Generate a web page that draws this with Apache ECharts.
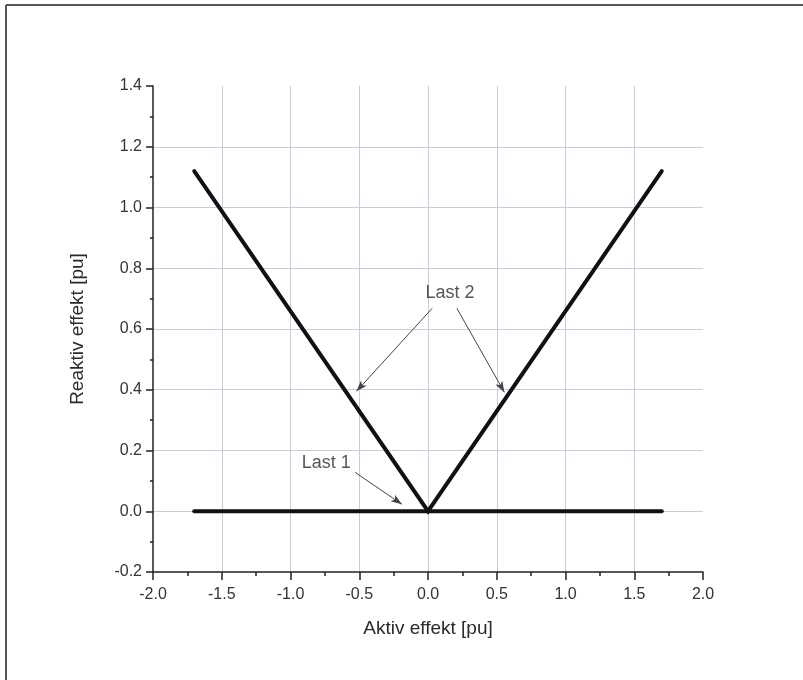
<!DOCTYPE html>
<html>
<head>
<meta charset="utf-8">
<script src="https://cdn.jsdelivr.net/npm/echarts@6/dist/echarts.min.js"></script>
<style>
  html, body { margin: 0; padding: 0; background: #fff; }
  #chart { width: 803px; height: 680px; }
</style>
</head>
<body>
<div id="chart"></div>
<script>
// Load curves in the P-Q plane
const last1 = [[-1.7, 0.0], [1.7, 0.0]];
const last2 = [[-1.7, 1.12], [0.0, 0.0], [1.7, 1.12]];

// Text annotations: [x, y, text]
const labels = [[0.16, 0.72, 'Last 2'], [-0.74, 0.16, 'Last 1']];
// Pointer arrows: [[x0, y0], [x1, y1]]
const arrows = [
  [[0.03, 0.668], [-0.52, 0.395]],
  [[0.21, 0.668], [0.555, 0.392]],
  [[-0.53, 0.128], [-0.19, 0.023]]
];

const axisFont = 'Liberation Sans, Arial, sans-serif';
const chart = echarts.init(document.getElementById('chart'), null, { renderer: 'canvas' });

const gridLine = { show: true, showMinLine: false, showMaxLine: false,
  lineStyle: { color: '#c3cde2', width: 1 } };

const option = {
  backgroundColor: '#ffffff',
  animation: false,
  grid: { left: 153, right: 100, top: 86, bottom: 108 },
  xAxis: {
    type: 'value', min: -2, max: 2, interval: 0.5,
    name: 'Aktiv effekt [pu]', nameLocation: 'middle', nameGap: 47,
    nameTextStyle: { fontFamily: axisFont, fontSize: 19, color: '#2a2a2a' },
    axisLine: { onZero: false, lineStyle: { color: '#222', width: 1.5 } },
    axisTick: { show: true, length: 8, lineStyle: { color: '#222', width: 1.5 } },
    minorTick: { show: true, splitNumber: 2, length: 4, lineStyle: { color: '#222', width: 1.5 } },
    axisLabel: { fontFamily: axisFont, fontSize: 16, color: '#333', margin: 15,
      formatter: v => v.toFixed(1) },
    splitLine: gridLine
  },
  yAxis: {
    type: 'value', min: -0.2, max: 1.4, interval: 0.2,
    name: 'Reaktiv effekt [pu]', nameLocation: 'middle', nameGap: 66,
    nameTextStyle: { fontFamily: axisFont, fontSize: 19, color: '#2a2a2a' },
    axisLine: { onZero: false, lineStyle: { color: '#222', width: 1.5 } },
    axisTick: { show: true, length: 7, lineStyle: { color: '#222', width: 1.5 } },
    minorTick: { show: true, splitNumber: 2, length: 3, lineStyle: { color: '#222', width: 1.5 } },
    axisLabel: { fontFamily: axisFont, fontSize: 16, color: '#333', margin: 11,
      formatter: v => v.toFixed(1) },
    splitLine: gridLine
  },
  graphic: [
    { type: 'line', shape: { x1: 6, y1: 5, x2: 803, y2: 5 }, style: { stroke: '#555', lineWidth: 2 } },
    { type: 'line', shape: { x1: 6, y1: 5, x2: 6, y2: 680 }, style: { stroke: '#555', lineWidth: 2 } }
  ],
  series: [
    {
      name: 'Last 1', type: 'line', data: last1, showSymbol: false,
      lineStyle: { color: '#111', width: 4, cap: 'round' }
    },
    {
      name: 'Last 2', type: 'line', data: last2, showSymbol: false,
      lineStyle: { color: '#111', width: 4, cap: 'round', join: 'miter' }
    },
    {
      name: 'annotations', type: 'scatter', symbolSize: 0, silent: true,
      data: labels.map(l => ({ value: [l[0], l[1]], name: l[2] })),
      label: {
        show: true, position: 'inside', formatter: p => p.name,
        fontFamily: axisFont, fontSize: 18, color: '#2a2a2a'
      },
      markLine: {
        silent: true, symbol: ['none', 'arrow'], symbolSize: [6, 11],
        lineStyle: { color: '#444', width: 1, type: 'solid' },
        label: { show: false },
        data: arrows.map(a => [{ coord: a[0] }, { coord: a[1] }])
      }
    }
  ]
};
chart.setOption(option);
</script>
</body>
</html>
